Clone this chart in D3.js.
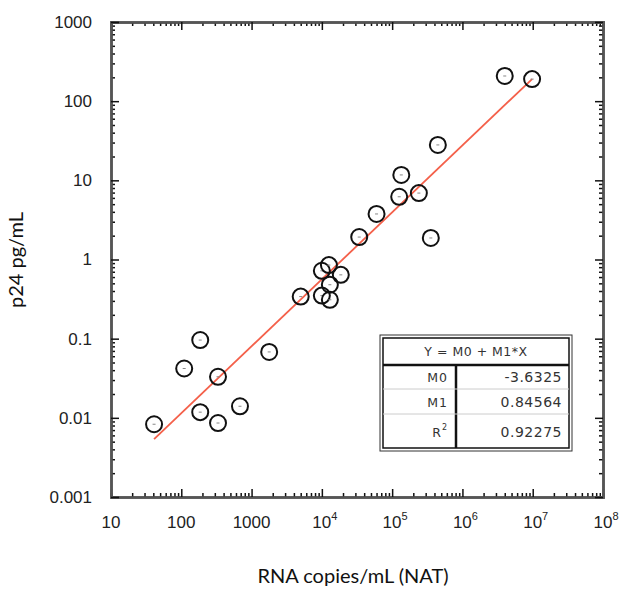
<!DOCTYPE html>
<html lang="en">
<head>
<meta charset="utf-8">
<title>p24 vs RNA copies</title>
<style>
  body { margin: 0; background: #fff; }
  .tick text { font-family: "Liberation Sans", Arial, sans-serif; font-size: 17px; fill: #222; }
  .title { font-family: Lato, "Open Sans", sans-serif; font-size: 20px; fill: #111; }
  .tbl { font-family: "DejaVu Sans", sans-serif; font-size: 12.5px; fill: #333; }
</style>
</head>
<body>
<script src="https://d3js.org/d3.v7.min.js"></script>
<script>
// data: RNA copies/mL vs p24 pg/mL
var rna = [41, 110, 186, 186, 333, 333, 684, 1780, 5000, 10000, 12600, 18600,
           10000, 13000, 13000, 34000, 60000, 126000, 240000, 355000,
           135000, 447000, 4.0e6, 9.8e6];
var p24 = [0.0083, 0.042, 0.096, 0.0118, 0.033, 0.0086, 0.014, 0.068, 0.34, 0.72, 0.85, 0.64,
           0.35, 0.31, 0.48, 1.92, 3.76, 6.2, 6.9, 1.87,
           11.7, 28, 208, 190];

// fit: log10(Y) = M0 + M1*log10(X)
var fitLabels = ["M0", "M1", "R2"];
var fitValues = ["-3.6325", "0.84564", "0.92275"];
var M0 = -3.6325, M1 = 0.84564;

var xTickVals = [1e1, 1e2, 1e3, 1e4, 1e5, 1e6, 1e7, 1e8];
var xTickBase = ["10", "100", "1000", "10", "10", "10", "10", "10"];
var xTickExp  = ["", "", "", "4", "5", "6", "7", "8"];
var yTickVals = [1e-3, 1e-2, 1e-1, 1, 10, 100, 1000];
var yTickText = ["0.001", "0.01", "0.1", "1", "10", "100", "1000"];

var W = 619, H = 598;
var margin = {top: 22, right: 16, bottom: 101, left: 111};
var width = W - margin.left - margin.right,
    height = H - margin.top - margin.bottom;

var svg = d3.select("body").append("svg")
    .attr("width", W).attr("height", H)
  .append("g")
    .attr("transform", `translate(${margin.left},${margin.top})`);

var x = d3.scaleLog().domain([10, 1e8]).range([0, width]);
var y = d3.scaleLog().domain([1e-3, 1e3]).range([height, 0]);

// minor ticks 2..9 per decade
function minors(lo, hi) {
  var out = [];
  for (var e = lo; e < hi; e++)
    for (var m = 2; m <= 9; m++) out.push(m * Math.pow(10, e));
  return out;
}
var xMinor = minors(1, 8), yMinor = minors(-3, 3);

function styleAxis(g) {
  g.select(".domain").attr("stroke", "#555").attr("stroke-width", 2.5);
  g.selectAll(".tick line").attr("stroke", "#111").attr("stroke-width", 1.5);
}

// frame: bottom, top, left, right with inward ticks
var bottom = svg.append("g").attr("transform", `translate(0,${height})`);
bottom.append("g").call(d3.axisBottom(x).tickValues(xMinor).tickSize(-4).tickFormat("")).call(styleAxis);
bottom.append("g").call(d3.axisBottom(x).tickValues(xTickVals).tickSize(-8).tickFormat("").tickSizeOuter(0)).call(styleAxis);

svg.append("g").call(d3.axisTop(x).tickValues(xMinor).tickSize(-4).tickFormat("")).call(styleAxis);
svg.append("g").call(d3.axisTop(x).tickValues(xTickVals).tickSize(-8).tickFormat("")).call(styleAxis);

svg.append("g").call(d3.axisLeft(y).tickValues(yMinor).tickSize(-4).tickFormat("")).call(styleAxis);
svg.append("g").call(d3.axisLeft(y).tickValues(yTickVals).tickSize(-8).tickPadding(19)
    .tickFormat((d, i) => yTickText[i])).call(styleAxis);

var right = svg.append("g").attr("transform", `translate(${width},0)`);
right.append("g").call(d3.axisRight(y).tickValues(yMinor).tickSize(-4).tickFormat("")).call(styleAxis);
right.append("g").call(d3.axisRight(y).tickValues(yTickVals).tickSize(-8).tickFormat("")).call(styleAxis);

// x tick labels with superscripts
var xl = svg.append("g").attr("class", "tick")
  .selectAll("text").data(xTickVals).join("text")
    .attr("x", d => x(d))
    .attr("y", height + 31)
    .attr("text-anchor", "middle");
xl.append("tspan").text((d, i) => xTickBase[i]);
xl.append("tspan").attr("dy", -8).style("font-size", "11px").text((d, i) => xTickExp[i]);
xl.attr("dx", (d, i) => xTickExp[i] ? 3 : 0);

// fit line
var xs = d3.extent(rna);
svg.append("line")
  .attr("x1", x(xs[0])).attr("y1", y(Math.pow(10, M0 + M1 * Math.log10(xs[0]))))
  .attr("x2", x(xs[1])).attr("y2", y(Math.pow(10, M0 + M1 * Math.log10(xs[1]))))
  .attr("stroke", "#f4604a").attr("stroke-width", 1.8);

// points
var pts = svg.append("g").selectAll("g").data(rna).join("g")
  .attr("transform", (d, i) => `translate(${x(d)},${y(p24[i])})`);
pts.append("circle").attr("r", 8).attr("fill", "none").attr("stroke", "#111").attr("stroke-width", 2);
pts.append("line").attr("x1", -1.5).attr("x2", 1.5).attr("stroke", "#888").attr("stroke-width", 1);

// fit table
var tx = 380 - margin.left, ty = 335 - margin.top, tw = 192, th = 116;
var tbl = svg.append("g").attr("transform", `translate(${tx},${ty})`);
tbl.append("rect").attr("width", tw).attr("height", th).attr("fill", "#fff")
  .attr("stroke", "#333").attr("stroke-width", 1);
tbl.append("rect").attr("x", 3).attr("y", 3).attr("width", tw - 6).attr("height", th - 6)
  .attr("fill", "none").attr("stroke", "#111").attr("stroke-width", 1.5);
tbl.append("line").attr("x1", 3).attr("x2", tw - 3).attr("y1", 30).attr("y2", 30)
  .attr("stroke", "#111").attr("stroke-width", 2.5);
tbl.append("line").attr("x1", 76).attr("x2", 76).attr("y1", 30).attr("y2", th - 3)
  .attr("stroke", "#111").attr("stroke-width", 2.5);
[54, 79].forEach(function(yy) {
  tbl.append("line").attr("x1", 3).attr("x2", tw - 3).attr("y1", yy).attr("y2", yy)
    .attr("stroke", "#ccc").attr("stroke-width", 1);
});
tbl.append("text").attr("class", "tbl").attr("x", tw / 2).attr("y", 21)
  .attr("text-anchor", "middle").style("letter-spacing", "0.5px").text("Y = M0 + M1*X");
var rowY = [47, 72, 102];
fitLabels.forEach(function(l, i) {
  var t = tbl.append("text").attr("class", "tbl").attr("x", 68).attr("y", rowY[i])
    .attr("text-anchor", "end").style("letter-spacing", "1px");
  if (l === "R2") {
    t.append("tspan").text("R");
    t.append("tspan").attr("dy", -7).style("font-size", "8px").text("2");
  } else t.text(l);
  tbl.append("text").attr("class", "tbl").attr("x", tw - 10).attr("y", rowY[i])
    .attr("text-anchor", "end").style("font-size", "14px").style("letter-spacing", "0.5px")
    .text(fitValues[i]);
});

// axis titles
svg.append("text").attr("class", "title")
  .attr("x", width / 2 - 4).attr("y", height + 86)
  .attr("text-anchor", "middle").text("RNA copies/mL (NAT)");
svg.append("text").attr("class", "title")
  .attr("transform", "rotate(-90)")
  .attr("x", -(238)).attr("y", -88)
  .attr("text-anchor", "middle").text("p24 pg/mL");
</script>
</body>
</html>
